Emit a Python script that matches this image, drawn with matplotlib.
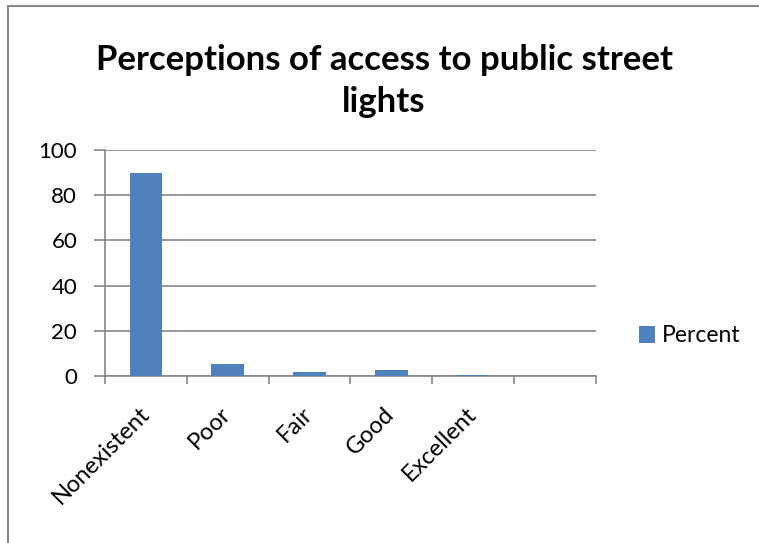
import matplotlib.pyplot as plt
from matplotlib.patches import Rectangle

plt.rcParams['font.family'] = ['Lato', 'DejaVu Sans']

categories = ['Nonexistent', 'Poor', 'Fair', 'Good', 'Excellent']
percent = [89.7, 5.3, 1.9, 2.5, 0.6]
n_slots = 6  # last category slot is left empty
y_ticks = [0, 20, 40, 60, 80, 100]

bar_color = '#4F81BD'
line_color = '#868686'

fig = plt.figure(figsize=(7.59, 5.43), dpi=100)

# chart area border
fig.patches.append(Rectangle((8 / 759, -0.1), 1.2, (543 - 5.5) / 543 + 0.1,
                             transform=fig.transFigure, fill=False,
                             edgecolor='#8c8c8c', linewidth=1.5))

ax = fig.add_axes([105 / 759, (543 - 376) / 543, 490.7 / 759, 226 / 543])
x = list(range(len(categories)))
ax.bar(x, percent, width=0.4, color=bar_color, label='Percent', zorder=3)

ax.set_xlim(-0.5, n_slots - 0.5)
ax.set_ylim(0, 100)
ax.set_yticks(y_ticks)
ax.yaxis.grid(True, color=line_color, linewidth=1.2)
ax.set_axisbelow(True)

for side in ['top', 'right']:
    ax.spines[side].set_visible(False)
for side in ['left', 'bottom']:
    ax.spines[side].set_color(line_color)
    ax.spines[side].set_linewidth(1.2)

ax.tick_params(axis='y', length=8, width=1.2, color=line_color,
               labelsize=16, pad=12)
ax.set_xticks(x)
ax.set_xticklabels(categories, rotation=45, ha='right', va='center',
                   rotation_mode='anchor', fontsize=17)
ax.tick_params(axis='x', which='major', length=0, pad=25)
ax.set_xticks([i - 0.5 for i in range(n_slots + 1)], minor=True)
ax.tick_params(axis='x', which='minor', length=6, width=1.2, color=line_color)

fig.text(0.506, 1 - 81 / 543, 'Perceptions of access to public street\nlights',
         ha='center', va='center', fontsize=25, fontweight='bold',
         linespacing=1.42)

ax.legend(loc='center left', bbox_to_anchor=(630 / 759, 1 - 336 / 543),
          bbox_transform=fig.transFigure, frameon=False, borderaxespad=0,
          fontsize=16.5, handlelength=0.7, handleheight=0.7, handletextpad=0.3)

fig.savefig('out.png', dpi=100)
